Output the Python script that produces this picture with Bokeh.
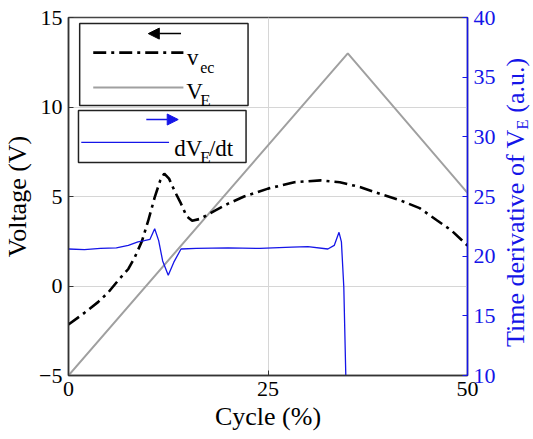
from bokeh.plotting import figure
from bokeh.models import (Range1d, LinearAxis, FixedTicker, BoxAnnotation, Arrow,
                          NormalHead, Label, Div)
from bokeh.layouts import row
from bokeh.embed import file_html
from bokeh.resources import INLINE

# ---------------- data ----------------
cycle_ticks = [0, 25, 50]
volt_ticks = [-5, 0, 5, 10, 15]
deriv_ticks = [10, 15, 20, 25, 30, 35, 40]

# v_ec (left axis, V)
vec_x = [0, 2, 3.7, 5, 6.2, 7.5, 8.3, 9.2, 10, 10.8, 11.5, 12.0, 12.6, 13.3, 14.1,
         14.8, 15.5, 16.5, 18.3, 20, 22, 25, 28.3, 31.6, 34, 36.6, 39, 41.6, 44,
         46.2, 48, 50]
vec_y = [-2.15, -1.5, -0.9, -0.35, 0.3, 0.95, 1.6, 2.5, 3.66, 4.95, 5.9, 6.28, 6.0,
         5.3, 4.6, 3.9, 3.65, 3.75, 4.2, 4.6, 5.0, 5.44, 5.8, 5.9, 5.8, 5.52, 5.15,
         4.78, 4.35, 3.66, 3.1, 2.26]

# V_E (left axis, V)
ve_x = [0, 35, 50]
ve_y = [-5, 13, 5.2]

# dV_E/dt (right axis, a.u.)
dv_x = [0, 2, 4, 6, 7.5, 8.7, 9.5, 10.2, 10.8, 11.3, 11.8, 12.5, 13.2, 14.1, 16, 20,
        24, 28, 30, 32.5, 33.3, 33.9, 34.2, 34.5, 34.75]
dv_y = [20.6, 20.55, 20.65, 20.7, 20.9, 21.2, 21.3, 21.4, 22.3, 21.3, 19.6, 18.4,
        19.5, 20.6, 20.65, 20.7, 20.65, 20.75, 20.8, 20.6, 20.9, 22.0, 21.2, 17.4, 10.0]

FONT = "Liberation Serif"
BLUE = "#1515e8"
DASHDOT = "13 5 3 5"

p = figure(width=500, height=439, output_backend="svg", toolbar_location=None,
           x_range=Range1d(0, 50), y_range=Range1d(-5, 15),
           min_border_left=67, min_border_right=33, min_border_top=17,
           min_border_bottom=64)
p.extra_y_ranges = {"deriv": Range1d(10, 40)}
p.background_fill_color = "white"
p.border_fill_color = "white"
p.outline_line_color = "#444444"
p.outline_line_width = 1.5

# axes
for ax in (p.xaxis[0], p.yaxis[0]):
    ax.major_label_text_font = FONT
    ax.major_label_text_font_size = "22px"
    ax.major_label_text_color = "black"
    ax.axis_label_text_font = FONT
    ax.axis_label_text_font_size = "26px"
    ax.axis_label_text_font_style = "normal"
    ax.axis_label_text_color = "black"
    ax.axis_line_color = "#333333"
    ax.axis_line_width = 1.5
    ax.major_tick_line_color = "#333333"
    ax.major_tick_in = 5
    ax.major_tick_out = 0
    ax.minor_tick_line_color = None
    ax.major_label_standoff = 6

p.xaxis[0].ticker = FixedTicker(ticks=cycle_ticks)
p.xaxis[0].axis_label = "Cycle (%)"
p.xaxis[0].axis_label_standoff = 3
p.yaxis[0].ticker = FixedTicker(ticks=volt_ticks)
p.yaxis[0].axis_label = "Voltage (V)"
p.yaxis[0].axis_label_standoff = 4

raxis = LinearAxis(y_range_name="deriv", ticker=FixedTicker(ticks=deriv_ticks))
raxis.major_label_text_font = FONT
raxis.major_label_text_font_size = "22px"
raxis.major_label_text_color = BLUE
raxis.axis_line_color = BLUE
raxis.axis_line_width = 1.5
raxis.major_tick_line_color = BLUE
raxis.major_tick_in = 5
raxis.major_tick_out = 0
raxis.minor_tick_line_color = None
raxis.major_label_standoff = 6
p.add_layout(raxis, "right")

p.xgrid.ticker = FixedTicker(ticks=cycle_ticks)
p.ygrid.ticker = FixedTicker(ticks=volt_ticks)
p.xgrid.grid_line_color = "#d6d6d6"
p.ygrid.grid_line_color = "#d6d6d6"

# data lines
p.line(ve_x, ve_y, line_color="#a0a0a0", line_width=2)
p.line(vec_x, vec_y, line_color="black", line_width=2.6, line_dash=DASHDOT)
p.line(dv_x, dv_y, line_color=BLUE, line_width=1.3, y_range_name="deriv")

# ---------------- legend boxes (data units of left axis) ----------------
p.add_layout(BoxAnnotation(left=1.4, right=22.5, top=14.66, bottom=10.08,
                           fill_alpha=0, line_color="#222222", line_alpha=1.0,
                           line_width=1.5))
p.add_layout(BoxAnnotation(left=1.25, right=22.25, top=9.8, bottom=6.9,
                           fill_alpha=0, line_color="#222222", line_alpha=1.0,
                           line_width=1.5))

# arrows
p.add_layout(Arrow(x_start=14.1, y_start=14.1, x_end=10.0, y_end=14.1,
                   line_color="black", line_width=1.5,
                   end=NormalHead(size=11, fill_color="black", line_color="black")))
p.add_layout(Arrow(x_start=9.75, y_start=9.3, x_end=13.75, y_end=9.3,
                   line_color=BLUE, line_width=1.5,
                   end=NormalHead(size=11, fill_color=BLUE, line_color=BLUE)))

# sample lines
p.add_layout(Arrow(x_start=3.1, y_start=13.04, x_end=14.4, y_end=13.04, end=None,
                   line_color="black", line_width=2.6, line_dash=DASHDOT))
p.add_layout(Arrow(x_start=3.1, y_start=11.09, x_end=14.4, y_end=11.09, end=None,
                   line_color="#a0a0a0", line_width=2))
p.add_layout(Arrow(x_start=1.6, y_start=8.02, x_end=12.6, y_end=8.02, end=None,
                   line_color=BLUE, line_width=1.3))


def lab(x, y, text, size, color="black"):
    p.add_layout(Label(x=x, y=y, text=text, text_font=FONT,
                       text_font_size=size, text_color=color,
                       text_baseline="alphabetic", text_align="left"))


lab(14.85, 12.76, "v", "23px")
lab(16.5, 12.2, "ec", "16px")
lab(14.75, 10.87, "V", "23px")
lab(16.5, 10.36, "E", "17px")
lab(13.25, 7.68, "dV", "23px")
lab(16.5, 7.18, "E", "17px")
lab(17.6, 7.68, "/dt", "23px")

# right axis label (rotated, reads bottom-to-top, with subscript) in a side Div
rlabel_html = (
    '<div style="position:relative;width:33px;height:439px;">'
    '<div style="position:absolute;left:-2px;top:342px;transform:rotate(-90deg);'
    'transform-origin:0 0;white-space:nowrap;font-family:\'Liberation Serif\';'
    'font-size:26px;line-height:26px;color:%s;">'
    'Time derivative of V<span style="font-size:17px;line-height:17px;'
    'vertical-align:-4px;">E</span>'
    ' (a.u.)</div></div>' % BLUE
)
div = Div(text=rlabel_html, width=33, height=439, styles={"overflow": "visible"})

layout = row(p, div)
open("out.html", "w").write(file_html(layout, INLINE))
